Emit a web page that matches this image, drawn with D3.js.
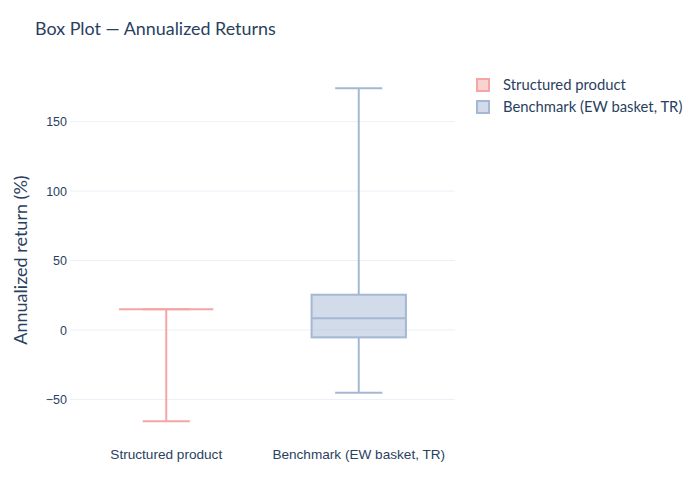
<!DOCTYPE html>
<html><head><meta charset="utf-8">
<script src="https://cdn.jsdelivr.net/npm/d3@7"></script>
<style>body{margin:0;background:#fff;} svg{display:block;font-family:"Source Sans Pro",Lato,"Noto Sans",sans-serif;}</style>
</head><body>
<svg id="c" width="700" height="500"></svg>
<script>
const categories = ["Structured product", "Benchmark (EW basket, TR)"];
const lowerWhisker = [-65.7, -45.1];
const q1 = [14.9, -5.3];
const median = [14.9, 8.4];
const q3 = [14.9, 25.4];
const upperWhisker = [14.9, 174.0];
const yTicks = [-50, 0, 50, 100, 150];
const strokeColors = ["#f4a5a5", "#a4b8d3"];
const fillColors = ["rgba(244,165,165,0.5)", "rgba(164,184,211,0.5)"];

const svg = d3.select("#c");
const m = {l:70, r:245, t:70, b:60};
const W = 700, H = 500;
const x = d3.scaleBand().domain(categories).range([m.l, W - m.r]);
const y = d3.scaleLinear().domain([-79.2, 187.2]).range([H - m.b, m.t]);
const textColor = "#2a3f5f";

// grid
svg.append("g").selectAll("line").data(yTicks).join("line")
  .attr("x1", m.l).attr("x2", W - m.r)
  .attr("y1", d => y(d)).attr("y2", d => y(d))
  .attr("stroke", "#ebf0f8").attr("stroke-width", 1);

// y axis labels
const yAxis = d3.axisLeft(y).tickValues(yTicks).tickSize(0).tickPadding(3)
  .tickFormat(d => d < 0 ? "\u2212" + Math.abs(d) : d);
const ya = svg.append("g").attr("transform", `translate(${m.l},0)`).call(yAxis);
ya.select(".domain").remove();
ya.selectAll("text").attr("fill", textColor).style("font-size", "12.5px");

// x axis labels
const xAxis = d3.axisBottom(x).tickSize(0).tickPadding(9);
const xa = svg.append("g").attr("transform", `translate(0,${H - m.b})`).call(xAxis);
xa.select(".domain").remove();
xa.selectAll("text").attr("fill", textColor).style("font-size", "13.6px");

// boxes
const data = categories.map((c, i) => ({c, i, lo: lowerWhisker[i], q1: q1[i], med: median[i], q3: q3[i], hi: upperWhisker[i]}));
const bw = x.bandwidth() * 0.49;
const g = svg.append("g");
data.forEach(d => {
  const cx = x(d.c) + x.bandwidth() / 2;
  const sc = strokeColors[d.i];
  const gg = g.append("g").attr("stroke", sc).attr("stroke-width", 2).attr("fill", "none");
  gg.append("line").attr("x1", cx).attr("x2", cx).attr("y1", y(d.q3)).attr("y2", y(d.hi));
  gg.append("line").attr("x1", cx).attr("x2", cx).attr("y1", y(d.q1)).attr("y2", y(d.lo));
  gg.append("line").attr("x1", cx - bw/4).attr("x2", cx + bw/4).attr("y1", y(d.hi)).attr("y2", y(d.hi));
  gg.append("line").attr("x1", cx - bw/4).attr("x2", cx + bw/4).attr("y1", y(d.lo)).attr("y2", y(d.lo));
  gg.append("rect").attr("x", cx - bw/2).attr("width", bw)
    .attr("y", y(d.q3)).attr("height", Math.max(0, y(d.q1) - y(d.q3)))
    .attr("fill", fillColors[d.i]);
  gg.append("line").attr("x1", cx - bw/2).attr("x2", cx + bw/2).attr("y1", y(d.med)).attr("y2", y(d.med));
});

// title
svg.append("text").attr("x", 35).attr("y", 35).text("Box Plot \u2014 Annualized Returns")
  .attr("fill", textColor).style("font-size", "17.9px");

// y title
svg.append("text").attr("transform", `translate(27,${(m.t + H - m.b)/2 + 5}) rotate(-90)`)
  .attr("text-anchor", "middle").text("Annualized return (%)")
  .attr("fill", textColor).style("font-size", "18px");

// legend
const lg = svg.append("g");
categories.forEach((c, i) => {
  const cy = 85 + i * 22;
  lg.append("rect").attr("x", 477).attr("y", cy - 6).attr("width", 12).attr("height", 12)
    .attr("fill", fillColors[i]).attr("stroke", strokeColors[i]).attr("stroke-width", 2);
  lg.append("text").attr("x", 503).attr("y", cy + 5).text(c)
    .attr("fill", textColor).style("font-size", "14.8px");
});
</script>
</body></html>
